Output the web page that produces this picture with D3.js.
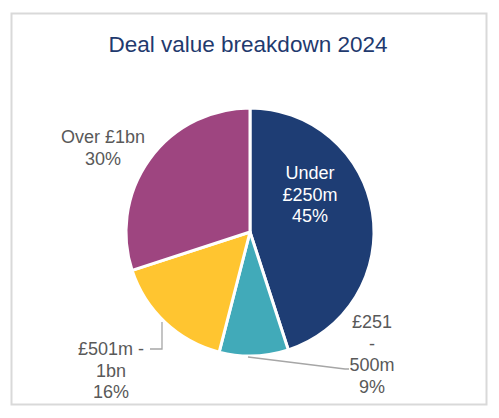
<!DOCTYPE html>
<html>
<head>
<meta charset="utf-8">
<script src="https://cdn.jsdelivr.net/npm/d3@7"></script>
<style>
  body { margin: 0; background: #fff; }
  svg { font-family: "Liberation Sans", Arial, sans-serif; }
</style>
</head>
<body>
<svg id="chart" width="499" height="418"></svg>
<script>
// data
var categories = ["Under £250m", "£251 - 500m", "£501m - 1bn", "Over £1bn"];
var shares = [45, 9, 16, 30];
var labelLines = [["Under", "£250m", "45%"], ["£251", "-", "500m", "9%"], ["£501m -", "1bn", "16%"], ["Over £1bn", "30%"]];
var colours = ["#1e3d74", "#41aab9", "#ffc530", "#9e4580"];

var width = 499, height = 418;
var cx = 250, cy = 232, radius = 124;
var lineHeight = 21.5;

// label anchor (first baseline) relative to pie centre, and leader lines
var labelPos = [[60, -53], [122, 96], [-139, 123], [-147, -89]];
var labelFill = ["#ffffff", "#595959", "#595959", "#595959"];
var leaders = [null, [[-2, 125], [95, 137], [99, 137]], [[-88, 90], [-88, 117], [-100, 117]], null];

var svg = d3.select("#chart");

// frame
svg.append("rect")
    .attr("x", 11.5).attr("y", 13.5)
    .attr("width", 475).attr("height", 391)
    .attr("fill", "#fff")
    .attr("stroke", "#d9d9d9")
    .attr("stroke-width", 2);

svg.append("text")
    .attr("x", 248).attr("y", 52)
    .attr("text-anchor", "middle")
    .attr("font-size", 22.5)
    .attr("fill", "#1f3a6e")
    .text("Deal value breakdown 2024");

var pie = d3.pie().sort(null).value(function (d) { return d; });
var arc = d3.arc().innerRadius(0).outerRadius(radius);
var colour = d3.scaleOrdinal().domain(categories).range(colours);

var g = svg.append("g").attr("transform", "translate(" + cx + "," + cy + ")");
var arcs = pie(shares);

g.selectAll(".slice")
    .data(arcs)
    .enter().append("path")
    .attr("class", "slice")
    .attr("d", arc)
    .attr("fill", function (d, i) { return colour(categories[i]); })
    .attr("stroke", "#fff")
    .attr("stroke-width", 3)
    .attr("stroke-linejoin", "round");

var line = d3.line();
g.selectAll(".leader")
    .data(leaders.filter(function (d) { return d; }))
    .enter().append("path")
    .attr("class", "leader")
    .attr("d", line)
    .attr("fill", "none")
    .attr("stroke", "#a6a6a6")
    .attr("stroke-width", 1.3);

g.selectAll(".label")
    .data(arcs)
    .enter().append("text")
    .attr("class", "label")
    .attr("text-anchor", "middle")
    .attr("font-size", 18)
    .attr("fill", function (d, i) { return labelFill[i]; })
    .each(function (d, i) {
        var t = d3.select(this);
        labelLines[i].forEach(function (s, k) {
            t.append("tspan")
                .attr("x", labelPos[i][0])
                .attr("y", labelPos[i][1] + k * lineHeight)
                .text(s);
        });
    });
</script>
</body>
</html>
